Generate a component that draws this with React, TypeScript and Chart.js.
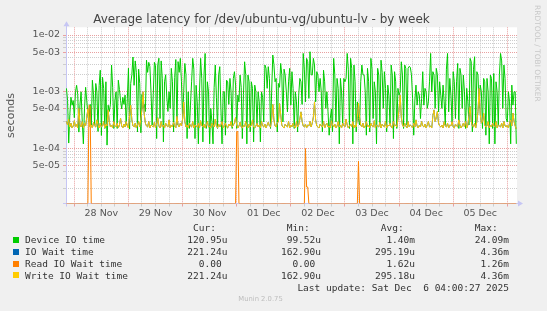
import React, { useEffect, useRef } from 'react';
import { Chart, registerables } from 'chart.js';

Chart.register(...registerables);

const TITLE = 'Average latency for /dev/ubuntu-vg/ubuntu-lv - by week';
const Y_TITLE = 'seconds';
const DAY_LABELS = ['28 Nov', '29 Nov', '30 Nov', '01 Dec', '02 Dec', '03 Dec', '04 Dec', '05 Dec'];
const Y_MIN = 1.077e-5;
const Y_MAX = 1.368e-2;
// hours relative to 28 Nov 00:00
const X_MIN_H = -3.7;
const X_MAX_H = 196.3;
const START_H = -3.5;
const STEP_H = 0.5;

// Device IO time, microseconds, one value per 30 min
const deviceUs = [
  1150, 700, 125, 400, 800, 580, 700, 350, 1000, 1300, 900, 195, 600, 1000, 300, 121, 500, 1200, 700, 400,
  300, 600, 250, 1600, 900, 260, 1400, 1000, 200, 1300, 2400, 170, 1800, 1150, 226, 1500, 115, 580, 450, 600,
  2960, 1200, 226, 700, 1000, 226, 1600, 1100, 700, 500, 800, 600, 874, 260, 750, 2600, 220, 1400, 2000, 4100,
  1300, 3500, 2200, 196, 2500, 1400, 190, 900, 510, 600, 450, 3600, 2200, 3300, 2800, 1000, 260, 900, 3300, 2900,
  150, 3000, 3900, 338, 3500, 1700, 131, 1500, 2000, 800, 450, 1000, 510, 2590, 1500, 196, 1800, 3700, 260, 3400,
  2200, 3880, 1500, 338, 1000, 3160, 2000, 150, 1000, 226, 582, 1500, 3880, 2500, 150, 1300, 665, 121, 1000, 3880,
  1720, 131, 2000, 4740, 226, 1500, 1000, 121, 510, 300, 121, 1200, 2960, 800, 226, 2000, 2770, 510, 121, 1000,
  1000, 172, 1600, 1500, 600, 1720, 1000, 226, 1700, 2260, 1312, 226, 874, 665, 1970, 1200, 150, 900, 3380, 2000,
  121, 1970, 1500, 196, 1500, 1150, 131, 1312, 1000, 260, 1000, 665, 131, 1000, 800, 295, 2960, 2590, 1150, 2770,
  1720, 226, 1000, 4440, 3000, 1500, 1720, 196, 1400, 1200, 3160, 2000, 295, 2500, 1970, 1000, 443, 1500, 2590, 582,
  2260, 1150, 226, 1000, 665, 196, 874, 1720, 1500, 600, 4740, 2500, 665, 3880, 3380, 765, 5080, 2000, 1970, 3880,
  2960, 665, 2260, 1970, 1000, 1720, 1000, 196, 2400, 1500, 510, 1000, 443, 172, 338, 500, 196, 3880, 2000, 295,
  1720, 1150, 121, 1720, 1000, 260, 1720, 1500, 1720, 4740, 2500, 226, 3880, 2590, 121, 2960, 1500, 196, 665, 338,
  260, 1500, 2960, 2000, 1970, 1000, 172, 2590, 1500, 196, 3880, 2500, 338, 1500, 1000, 121, 2590, 1970, 260, 3600,
  2200, 510, 2260, 1150, 196, 1312, 874, 260, 2960, 1970, 150, 2260, 1500, 226, 1150, 874, 1000, 3380, 1970, 226,
  2960, 2590, 260, 2590, 2800, 2700, 2000, 765, 172, 700, 1312, 582, 1000, 874, 338, 765, 2260, 582, 1150, 1000,
  510, 665, 1500, 4740, 1000, 2260, 1970, 510, 2590, 2000, 443, 1500, 874, 510, 1312, 665, 260, 2500, 4740, 443,
  1720, 874, 295, 2260, 1500, 338, 1500, 3160, 226, 2590, 1970, 510, 1970, 1000, 226, 1150, 665, 260, 3880, 3380,
  196, 2500, 4150, 260, 2260, 1970, 510, 1312, 1000, 226, 1720, 1500, 172, 1720, 1000, 121, 1970, 1720, 226, 2100,
  121, 1500, 1000, 260, 2000, 4740, 3500, 510, 2960, 1720, 338, 295, 1000, 665, 121, 1312, 582, 1000, 1000, 121,
];

// Write IO Wait time, microseconds
const writeUs = [
  300, 260, 330, 240, 280, 230, 250, 310, 240, 270, 230, 510, 260, 240, 300, 230, 280, 250, 350, 500,
  300, 240, 260, 230, 290, 250, 240, 320, 260, 230, 280, 240, 250, 300, 230, 270, 250, 480, 300, 240,
  260, 230, 300, 250, 240, 280, 230, 260, 340, 250, 230, 270, 240, 300, 250, 230, 380, 580, 320, 250,
  240, 280, 230, 260, 300, 240, 330, 500, 1000, 400, 280, 250, 240, 300, 230, 260, 250, 240, 290, 230,
  270, 350, 250, 230, 300, 240, 260, 230, 280, 250, 240, 320, 230, 260, 240, 290, 250, 230, 370, 260,
  240, 280, 250, 330, 665, 300, 240, 260, 230, 280, 250, 240, 300, 230, 260, 250, 240, 280, 230, 310,
  250, 240, 270, 230, 260, 300, 240, 250, 230, 280, 260, 240, 330, 250, 230, 270, 240, 260, 300, 230,
  250, 280, 240, 230, 270, 250, 300, 240, 260, 280, 350, 260, 230, 250, 290, 240, 230, 260, 240, 300,
  250, 230, 270, 240, 260, 320, 240, 230, 250, 280, 240, 260, 230, 300, 250, 240, 270, 230, 260, 290,
  250, 240, 330, 600, 320, 250, 240, 280, 300, 620, 400, 260, 240, 230, 270, 250, 240, 300, 230, 260,
  240, 280, 250, 230, 300, 240, 260, 330, 443, 300, 250, 240, 270, 230, 260, 250, 300, 240, 280, 360,
  665, 320, 250, 240, 230, 270, 250, 240, 300, 230, 260, 280, 240, 250, 230, 310, 260, 240, 270, 230,
  250, 300, 240, 260, 230, 280, 250, 240, 330, 260, 230, 250, 270, 240, 300, 230, 260, 240, 350, 630,
  350, 260, 240, 280, 230, 250, 300, 240, 260, 230, 280, 250, 240, 310, 230, 260, 250, 240, 290, 230,
  270, 250, 240, 300, 230, 260, 250, 280, 240, 230, 300, 250, 260, 240, 330, 500, 874, 350, 260, 240,
  280, 250, 230, 300, 240, 260, 250, 230, 280, 240, 320, 250, 230, 260, 240, 300, 250, 240, 270, 230,
  260, 300, 240, 250, 230, 380, 480, 300, 350, 450, 280, 250, 240, 260, 230, 300, 250, 240, 280, 230,
  260, 250, 300, 240, 230, 270, 250, 240, 320, 260, 230, 250, 280, 240, 300, 230, 260, 380, 550, 300,
  250, 240, 280, 230, 300, 450, 1150, 400, 280, 300, 420, 260, 240, 250, 300, 230, 260, 240, 280, 250,
  240, 300, 230, 260, 250, 240, 280, 230, 300, 250, 240, 260, 230, 280, 320, 250, 420, 300, 250, 221,
];

// IO Wait time equals Write IO Wait time here (hidden beneath it)
const ioWaitUs = writeUs;

// Read IO Wait time: zero except these samples
const readSpikeIdx = [20, 21, 151, 152, 212, 213, 214, 259];
const readSpikeUs = [580, 560, 200, 200, 100, 21, 21, 60];

const SERIES_NAMES = ['Device IO time', 'IO Wait time', 'Read IO Wait time', 'Write IO Wait time'];
const SERIES_COLORS = ['#00CC00', '#0066B3', '#FF8000', '#FFCC00'];
const COL_HEADERS = ['Cur:', 'Min:', 'Avg:', 'Max:'];
const CUR = ['120.95u', '221.24u', '  0.00 ', '221.24u'];
const MIN = [' 99.52u', '162.90u', '  0.00 ', '162.90u'];
const AVG = ['  1.40m', '295.19u', '  1.62u', '295.18u'];
const MAX = [' 24.09m', '  4.36m', '  1.26m', '  4.36m'];
const LAST_UPDATE = 'Last update: Sat Dec  6 04:00:27 2025';
const FOOTER = 'Munin 2.0.75';
const SIDE_TEXT = 'RRDTOOL / TOBI OETIKER';

const RED_GRID = '#E9A0A0';
const GRAY_GRID = '#CDCDCD';
const AXIS_COLOR = '#C6C6F4';
const TICK_COLOR = '#555555';

const toPoints = (arr: number[]) => arr.map((v, i) => ({ x: START_H + i * STEP_H, y: v === 0 ? Y_MIN : v / 1e6 }));

const readUs = deviceUs.map(() => 0);
readSpikeIdx.forEach((idx, k) => { readUs[idx] = readSpikeUs[k]; });

function isMajorLog(v: number) {
  const e = Math.floor(Math.log10(v) + 1e-9);
  const m = Math.round(v / Math.pow(10, e));
  return m === 1 || m === 5;
}

const framePlugin = {
  id: 'frame',
  beforeDraw(chart: any) {
    const { ctx, chartArea: a } = chart;
    ctx.save();
    ctx.fillStyle = '#FFFFFF';
    ctx.fillRect(a.left, a.top, a.right - a.left, a.bottom - a.top);
    ctx.restore();
  },
  beforeDatasetsDraw(chart: any) {
    const { ctx, chartArea: a } = chart;
    ctx.save();
    ctx.strokeStyle = AXIS_COLOR;
    ctx.lineWidth = 1;
    ctx.beginPath();
    const yb = Math.floor(a.bottom) + 0.5;
    const xl = Math.floor(a.left) + 0.5;
    ctx.moveTo(a.left - 3, yb);
    ctx.lineTo(a.right + 2, yb);
    ctx.moveTo(xl, a.bottom + 3);
    ctx.lineTo(xl, a.top - 2);
    ctx.stroke();
    ctx.restore();
  },
  afterDraw(chart: any) {
    const { ctx, chartArea: a } = chart;
    const yb = Math.floor(a.bottom) + 0.5;
    const xl = Math.floor(a.left) + 0.5;
    ctx.save();
    ctx.fillStyle = AXIS_COLOR;
    ctx.beginPath();
    ctx.moveTo(xl - 3, a.top - 1);
    ctx.lineTo(xl + 3, a.top - 1);
    ctx.lineTo(xl, a.top - 6);
    ctx.closePath();
    ctx.fill();
    ctx.beginPath();
    ctx.moveTo(a.right + 1, yb - 3);
    ctx.lineTo(a.right + 1, yb + 3);
    ctx.lineTo(a.right + 6, yb);
    ctx.closePath();
    ctx.fill();
    ctx.restore();
  },
};

const tickFont = { family: '"DejaVu Sans", sans-serif', size: 9.5 };

export default function App() {
  const ref = useRef<HTMLCanvasElement>(null);

  useEffect(() => {
    if (!ref.current) return;
    const line = (label: string, data: number[], color: string) => ({
      label,
      data: toPoints(data),
      borderColor: color,
      backgroundColor: color,
      borderWidth: 1,
      pointRadius: 0,
      tension: 0,
      fill: false,
      spanGaps: true,
    });
    const chart = new Chart(ref.current, {
      type: 'line',
      data: {
        datasets: [
          line(SERIES_NAMES[3], writeUs, SERIES_COLORS[3]),
          line(SERIES_NAMES[2], readUs, SERIES_COLORS[2]),
          line(SERIES_NAMES[1], ioWaitUs, SERIES_COLORS[1]),
          line(SERIES_NAMES[0], deviceUs, SERIES_COLORS[0]),
        ],
      },
      options: {
        responsive: false,
        animation: false,
        devicePixelRatio: 1,
        events: [],
        layout: { padding: { top: 27.3, right: 30, left: 0, bottom: 0 } },
        plugins: { legend: { display: false }, tooltip: { enabled: false }, title: { display: false } },
        scales: {
          x: {
            type: 'linear',
            min: X_MIN_H,
            max: X_MAX_H,
            afterBuildTicks: (scale: any) => {
              const t = [];
              for (let h = 0; h <= X_MAX_H; h += 6) t.push({ value: h });
              scale.ticks = t;
            },
            afterFit: (scale: any) => { scale.height = 107.5; },
            ticks: {
              autoSkip: false,
              maxRotation: 0,
              minRotation: 0,
              padding: 1,
              font: tickFont,
              color: TICK_COLOR,
              callback: (v: any) => (Number(v) % 24 === 12 ? DAY_LABELS[(Number(v) - 12) / 24] : ''),
            },
            grid: {
              color: (c: any) => (c.tick && c.tick.value % 24 === 0 ? RED_GRID : GRAY_GRID),
              tickColor: (c: any) => (c.tick && c.tick.value % 24 === 0 ? RED_GRID : GRAY_GRID),
              tickLength: 3,
              lineWidth: 1,
            },
            border: { display: false, dash: [1, 1] },
          },
          y: {
            type: 'logarithmic',
            min: Y_MIN,
            max: Y_MAX,
            afterBuildTicks: (scale: any) => {
              const t = [];
              for (let e = -5; e <= -2; e++) {
                for (let m = 1; m <= 9; m++) {
                  const v = m * Math.pow(10, e);
                  if (v >= Y_MIN && v <= Y_MAX) t.push({ value: v });
                }
              }
              scale.ticks = t;
            },
            afterFit: (scale: any) => { scale.width = 66; },
            ticks: {
              autoSkip: false,
              padding: 3,
              font: tickFont,
              color: TICK_COLOR,
              callback: (v: any) => {
                const n = Number(v);
                const e = Math.floor(Math.log10(n) + 1e-9);
                const m = Math.round(n / Math.pow(10, e));
                if (m !== 1 && m !== 5) return '';
                return `${m}e${e < 0 ? '-' : '+'}${String(Math.abs(e)).padStart(2, '0')}`;
              },
            },
            grid: {
              color: (c: any) => (c.tick && isMajorLog(c.tick.value) ? RED_GRID : GRAY_GRID),
              tickColor: (c: any) => (c.tick && isMajorLog(c.tick.value) ? RED_GRID : GRAY_GRID),
              tickLength: 3,
              lineWidth: 1,
            },
            border: { display: false, dash: [1, 1] },
            title: {
              display: true,
              text: Y_TITLE,
              color: TICK_COLOR,
              font: { family: '"DejaVu Sans", sans-serif', size: 11, lineHeight: 1.2 },
              padding: { top: 4.4, bottom: 0 },
            },
          },
        },
      },
      plugins: [framePlugin],
    } as any);
    return () => chart.destroy();
  }, []);

  const mono: React.CSSProperties = {
    position: 'absolute',
    fontFamily: '"DejaVu Sans Mono", monospace',
    fontSize: '9.5px',
    lineHeight: '12px',
    color: '#333',
    whiteSpace: 'pre',
  };
  const colEnds = [227.4, 321, 415, 509];
  const headerBase = 231;
  const rowBases = [243.5, 255.3, 267.2, 279];
  const top = (base: number) => base - 9.3;

  return (
    <div style={{ position: 'fixed', left: 0, top: 0, width: 547, height: 311, background: '#F0F0F0', overflow: 'hidden' }}>
      <canvas ref={ref} width={547} height={311} style={{ position: 'absolute', left: 0, top: 0, width: 547, height: 311 }} />
      <div style={{ position: 'absolute', left: 0, width: 523, top: 12, textAlign: 'center', fontFamily: '"DejaVu Sans", sans-serif', fontSize: '12px', lineHeight: '14px', color: '#444', whiteSpace: 'pre' }}>{TITLE}</div>
      <div style={{ position: 'absolute', left: 533, top: 5, writingMode: 'vertical-rl', fontFamily: '"DejaVu Sans", sans-serif', fontSize: '7.5px', lineHeight: '9px', color: '#C8C8C8', whiteSpace: 'pre' }}>{SIDE_TEXT}</div>
      {COL_HEADERS.map((h, k) => (
        <span key={h} style={{ ...mono, top: top(headerBase), right: 547 - (colEnds[k] - 11.4) }}>{h}</span>
      ))}
      {SERIES_NAMES.map((name, r) => (
        <React.Fragment key={name}>
          <span style={{ position: 'absolute', left: 13.3, top: rowBases[r] - 6.7, width: 6, height: 6, background: SERIES_COLORS[r] }} />
          <span style={{ ...mono, left: 25, top: top(rowBases[r]) }}>{name}</span>
          {[CUR, MIN, AVG, MAX].map((col, k) => (
            <span key={k} style={{ ...mono, right: 547 - colEnds[k], top: top(rowBases[r]) }}>{col[r]}</span>
          ))}
        </React.Fragment>
      ))}
      <span style={{ ...mono, right: 547 - 509, top: top(291) }}>{LAST_UPDATE}</span>
      <div style={{ position: 'absolute', left: 0, width: 521, top: 295, textAlign: 'center', fontFamily: '"DejaVu Sans", sans-serif', fontSize: '6.8px', lineHeight: '9px', color: '#BDBDBD', whiteSpace: 'pre' }}>{FOOTER}</div>
    </div>
  );
}
